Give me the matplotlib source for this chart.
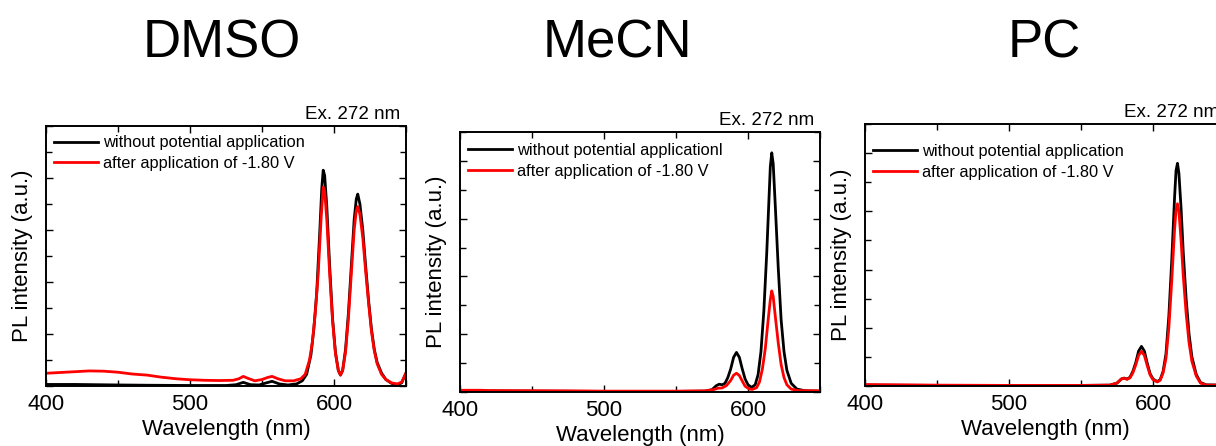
import matplotlib
matplotlib.use("Agg")
import matplotlib.pyplot as plt
from matplotlib.ticker import MultipleLocator

plt.rcParams['font.family'] = ['Liberation Sans', 'DejaVu Sans']

solvents = ["DMSO", "MeCN", "PC"]
legend_black = ["without potential application", "without potential applicationl", "without potential application"]
legend_red = "after application of -1.80 V"
excitation = "Ex. 272 nm"
xlabel = "Wavelength (nm)"
ylabel = "PL intensity (a.u.)"
xticks_major = [400, 500, 600]

# ---- DMSO ----
dmso_wl_black = [400, 420, 450, 470, 500, 525, 532, 537, 542, 548, 553, 557, 562, 568, 574, 578, 581, 584, 586, 588,
                 590, 591.5, 592.5, 593.5, 595, 597, 599, 601, 603, 604.5, 606, 608, 610, 612, 614, 615.5, 616.5,
                 618, 620, 622, 624, 626, 628, 630, 633, 636, 640, 644, 647, 650]
dmso_black = [0.06, 0.06, 0.04, 0.03, 0.02, 0.02, 0.05, 0.14, 0.05, 0.04, 0.12, 0.18, 0.08, 0.04, 0.08, 0.2, 0.45, 1.2, 2.2, 3.6,
              5.8, 7.6, 8.3, 8.1, 6.9, 4.6, 2.6, 1.3, 0.6, 0.42, 0.6, 1.4, 2.8, 4.6, 6.4, 7.2, 7.38,
              7.0, 6.0, 4.6, 3.3, 2.2, 1.4, 0.9, 0.5, 0.25, 0.1, 0.05, 0.12, 0.5]
dmso_wl_red = [400, 410, 420, 430, 440, 450, 460, 470, 480, 490, 500, 510, 520, 530, 534, 537, 540, 545, 550, 554, 557,
               561, 566, 572, 577, 580, 583, 585, 587, 589, 591, 592.5, 593.5, 595, 597, 599, 601, 603, 604.5, 606,
               608, 610, 612, 614, 615.5, 616.5, 618, 620, 622, 624, 626, 628, 630, 633, 636, 640, 644, 647, 650]
dmso_red = [0.49, 0.52, 0.55, 0.58, 0.57, 0.53, 0.46, 0.42, 0.34, 0.28, 0.24, 0.22, 0.21, 0.22, 0.28, 0.37, 0.3, 0.2, 0.25, 0.33, 0.37,
            0.28, 0.2, 0.2, 0.28, 0.45, 1.0, 1.7, 2.8, 4.3, 6.4, 7.65, 7.5, 6.4, 4.3, 2.5, 1.25, 0.6, 0.42, 0.6,
            1.3, 2.6, 4.3, 6.0, 6.75, 6.9, 6.6, 5.7, 4.4, 3.2, 2.1, 1.35, 0.85, 0.45, 0.25, 0.12, 0.08, 0.15, 0.5]

# ---- MeCN ----
mecn_wl_black = [400, 450, 500, 550, 570, 575, 578, 580, 582, 584, 586, 588, 590, 592, 594, 596, 598, 600, 602.5, 605,
                 607, 609, 611, 613, 614.5, 615.5, 616.5, 617.5, 619, 621, 623, 625, 627, 630, 634, 640, 650]
mecn_black = [0.04, 0.03, 0.02, 0.02, 0.03, 0.08, 0.22, 0.27, 0.25, 0.3, 0.5, 0.8, 1.2, 1.37, 1.2, 0.8, 0.45, 0.25, 0.16, 0.25,
              0.6, 1.4, 2.8, 4.8, 6.6, 7.8, 8.28, 7.9, 6.4, 4.3, 2.5, 1.4, 0.75, 0.3, 0.1, 0.04, 0.03]
mecn_wl_red = [400, 415, 420, 475, 500, 550, 570, 576, 579, 582, 585, 588, 590, 592, 594, 596, 598, 601, 603, 606,
               608, 610, 612, 614, 615.5, 616.5, 617.5, 619, 621, 623, 625, 627, 630, 635, 650]
mecn_red = [0.06, 0.06, 0.05, 0.04, 0.03, 0.03, 0.04, 0.08, 0.13, 0.14, 0.22, 0.4, 0.58, 0.65, 0.57, 0.38, 0.2, 0.1, 0.09, 0.15,
            0.35, 0.8, 1.5, 2.5, 3.2, 3.5, 3.3, 2.6, 1.7, 0.95, 0.5, 0.25, 0.1, 0.05, 0.04]

# ---- PC ----
pc_wl = [400, 450, 500, 550, 570, 575, 578, 580, 582, 584, 586, 588, 590, 592, 594, 596, 598, 600, 603, 605,
         607, 609, 611, 613, 615, 616, 617, 618, 619.5, 621, 623, 625, 627, 630, 633, 637, 650]
pc_black = [0.03, 0.02, 0.02, 0.02, 0.03, 0.1, 0.24, 0.27, 0.24, 0.3, 0.5, 0.8, 1.2, 1.36, 1.2, 0.78, 0.42, 0.24, 0.15, 0.22,
            0.5, 1.1, 2.4, 4.3, 6.5, 7.4, 7.65, 7.3, 6.1, 4.6, 3.0, 1.8, 1.0, 0.4, 0.12, 0.04, 0.03]
pc_red = [0.05, 0.03, 0.02, 0.02, 0.03, 0.1, 0.24, 0.27, 0.23, 0.28, 0.45, 0.72, 1.05, 1.19, 1.05, 0.7, 0.38, 0.22, 0.14, 0.2,
          0.45, 0.95, 2.0, 3.6, 5.4, 6.05, 6.26, 6.0, 5.0, 3.8, 2.5, 1.5, 0.85, 0.35, 0.1, 0.03, 0.03]

series = [
    (dmso_wl_black, dmso_black, dmso_wl_red, dmso_red, 10),
    (mecn_wl_black, mecn_black, mecn_wl_red, mecn_red, 9),
    (pc_wl, pc_black, pc_wl, pc_red, 9),
]

W, H = 1216, 446
fig = plt.figure(figsize=(W / 100, H / 100), dpi=100)

# axes boxes in pixels: left, top, right, bottom
boxes = [(46, 126, 406, 386), (460, 132, 820, 392), (865, 124, 1225, 386)]
title_x = [222, 617, 1044]
legend_y = [0.995, 0.99, 0.955]

for i, (box, (wb, yb, wr, yr, ymax)) in enumerate(zip(boxes, series)):
    l, t, r, b = box
    ax = fig.add_axes([l / W, (H - b) / H, (r - l) / W, (b - t) / H])
    ax.plot(wb, yb, color='black', lw=2.0, label=legend_black[i])
    ax.plot(wr, yr, color='#ff0000', lw=2.0, label=legend_red)
    ax.set_xlim(400, 650)
    ax.set_ylim(0, ymax)
    ax.set_xticks(xticks_major)
    ax.xaxis.set_minor_locator(MultipleLocator(50))
    ax.yaxis.set_major_locator(MultipleLocator(2))
    ax.yaxis.set_minor_locator(MultipleLocator(1))
    ax.tick_params(which='both', direction='in', top=True, right=True, width=1.0)
    ax.tick_params(which='major', length=5)
    ax.tick_params(which='minor', length=4.5)
    ax.tick_params(axis='x', labelsize=16, pad=6)
    ax.tick_params(axis='y', labelleft=False)
    for s in ax.spines.values():
        s.set_linewidth(1.4)
    ax.set_xlabel(xlabel, fontsize=16, labelpad=3)
    ax.set_ylabel(ylabel, fontsize=16, labelpad=6)
    ax.text(1.0 - 6 / 360, 1.012, excitation, transform=ax.transAxes, ha='right', va='bottom', fontsize=13.5)
    ax.legend(loc='upper left', bbox_to_anchor=(0.0, legend_y[i]), frameon=False, fontsize=11.8,
              handlelength=2.7, handletextpad=0.3, labelspacing=0.35, borderaxespad=0.3, borderpad=0.2)
    fig.text(title_x[i] / W, (H - 58) / H, solvents[i], ha='center', va='baseline', fontsize=38)

fig.savefig("out.png", dpi=100)
